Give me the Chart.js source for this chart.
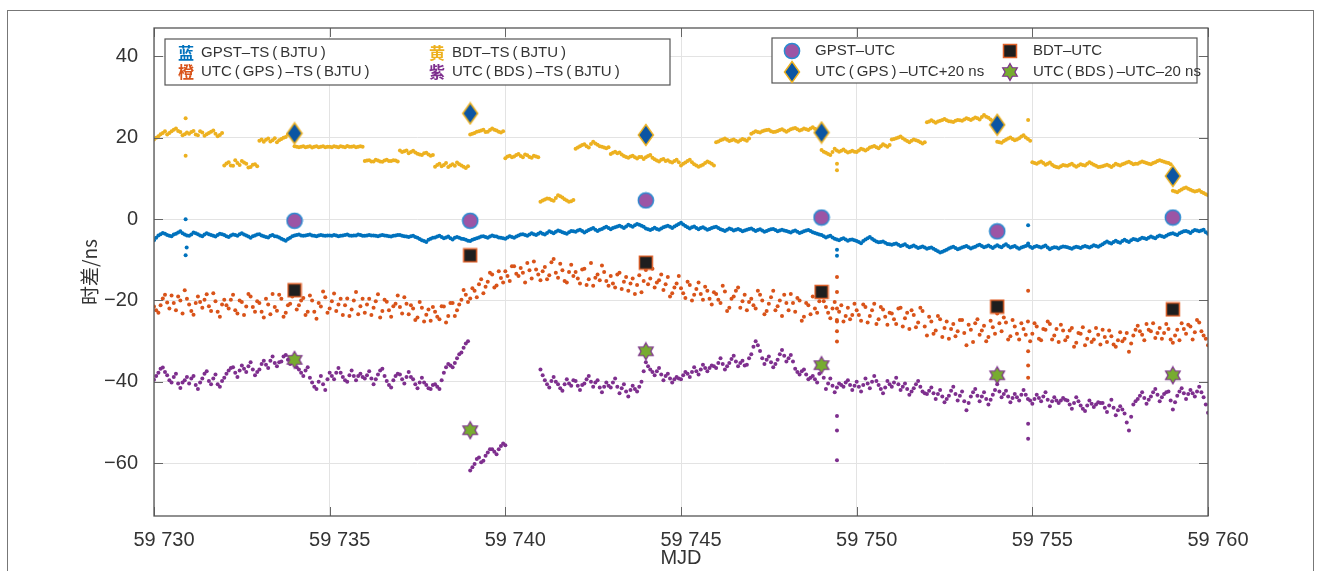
<!DOCTYPE html>
<html>
<head>
<meta charset="utf-8">
<script src="https://cdn.jsdelivr.net/npm/chart.js@4/dist/chart.umd.min.js"></script>
<style>
  html, body { margin: 0; padding: 0; background: #fff; }
  #frame { position: absolute; left: 7px; top: 10px; width: 1305px; height: 600px;
           border: 1.5px solid #777; border-bottom: none; }
  #c { position: absolute; left: 0; top: 0; }
</style>
</head>
<body>
<div id="frame"></div>
<canvas id="c" width="1321" height="571"></canvas>
<script>
// sampling grid: one value every 3 h from MJD 59730, plus a second read half-way between
const mjdStart = 59730
const mjdStep = 0.125

// GPST-TS(BJTU), blue
const gpstTs = [
  -5.2, -4.0, -3.4, -3.9, -4.2, -3.6, -3.0, -3.8,
  -4.1, -3.3, -3.7, -4.2, -3.5, -3.9, -4.3, -3.6,
  -3.9, -4.4, -3.8, -4.1, -3.5, -4.0, -4.6, -4.0,
  -3.7, -4.2, -4.5, -3.9, -4.3, -4.8, -5.3, -4.6,
  -4.0, -3.8, -4.1, -3.9, -4.0, -4.2, -3.9, -4.1,
  -4.0, -3.9, -4.2, -4.0, -3.8, -4.1, -4.0, -3.9,
  -4.1, -3.9, -4.0, -4.2, -3.9, -4.1, -4.3, -4.0,
  -3.9, -4.2, -4.4, -4.1, -4.6, -5.2, -5.6, -4.8,
  -4.5, -4.1, -4.7, -4.3, -5.0, -4.4, -4.8, -5.1,
  -5.4, -4.9, -4.5, -4.2, -4.6, -4.0, -4.3, -4.6,
  -4.8, -4.2, -4.6, -4.0, -3.7, -4.1, -3.5, -3.9,
  -3.3, -3.8, -3.0, -3.5, -2.8, -3.2, -3.6, -2.9,
  -3.1, -2.6, -3.3, -2.7, -2.2, -2.9, -2.4, -1.9,
  -2.5, -2.0, -1.6, -2.2, -1.4, -1.9, -1.2, -1.6,
  -2.3, -2.7, -2.1, -2.6, -2.0, -1.6, -2.2, -1.5,
  -0.9, -1.7, -2.3, -1.8, -2.5, -2.0, -2.6, -2.2,
  -1.9, -2.5, -2.9, -2.3, -2.8, -2.4, -3.0, -2.6,
  -2.3, -2.9, -2.5, -3.1, -2.7, -2.4, -3.0, -2.6,
  -2.9, -3.3, -2.8, -3.4, -3.0, -2.7, -3.2, -3.6,
  -3.9, -4.5, -4.1, -4.8, -5.2, -4.7, -5.3, -5.0,
  -5.4, -5.9, -5.0, -4.4, -5.2, -5.7, -5.5, -6.1,
  -6.3, -6.0, -6.6, -6.2, -6.9, -6.5, -7.1, -6.7,
  -7.3, -7.0, -7.6, -8.2, -7.8, -7.2, -6.8, -7.4,
  -7.0, -6.6, -7.2, -6.8, -6.3, -6.9, -6.5, -7.1,
  -6.4, -6.9, -6.2, -7.0, -6.6, -7.3, -6.8, -6.4,
  -7.1, -6.6, -7.0, -6.5, -7.4, -6.9, -7.2, -6.7,
  -6.9, -7.3, -6.8, -7.1, -6.6, -7.0, -6.4, -6.8,
  -6.2, -5.5, -6.0, -5.3, -5.8, -5.1, -5.6, -4.9,
  -5.2, -4.6, -4.9, -4.3, -4.7, -4.0, -4.4, -3.8,
  -3.5, -3.9, -3.2, -2.9, -3.4, -2.7, -3.0, -2.6,
  -3.6
]
const gpstTsMid = [
  -4.6, -3.7, -3.6, -4.1, -3.8, -3.3, -3.5, -4.0,
  -3.8, -3.5, -4.0, -3.8, -3.7, -4.1, -3.9, -3.7,
  -4.2, -4.0, -3.9, -3.7, -3.8, -4.3, -4.2, -3.8,
  -4.0, -4.4, -4.1, -4.2, -4.5, -5.1, -4.9, -4.2,
  -3.9, -4.0, -4.0, -3.8, -4.1, -4.0, -4.0, -4.0,
  -4.1, -4.0, -4.1, -3.9, -4.0, -4.0, -3.8, -4.1,
  -4.0, -4.0, -4.1, -4.0, -4.0, -4.2, -4.1, -3.9,
  -4.1, -4.3, -4.2, -4.4, -4.9, -5.4, -5.1, -4.6,
  -4.3, -4.4, -4.5, -4.7, -4.6, -4.6, -4.9, -5.3,
  -5.1, -4.7, -4.3, -4.4, -4.3, -4.2, -4.5, -4.7,
  -4.5, -4.4, -4.3, -3.8, -3.9, -3.8, -3.7, -3.6,
  -3.6, -3.4, -3.2, -3.1, -3.0, -3.4, -3.2, -3.0,
  -2.8, -2.9, -3.0, -2.4, -2.6, -2.6, -2.1, -2.2,
  -2.2, -1.8, -1.9, -1.8, -1.6, -1.5, -1.4, -1.9,
  -2.5, -2.4, -2.4, -2.3, -1.8, -1.9, -1.8, -1.2,
  -1.3, -2.0, -2.0, -2.2, -2.2, -2.3, -2.4, -2.0,
  -2.2, -2.7, -2.6, -2.5, -2.6, -2.7, -2.8, -2.4,
  -2.6, -2.7, -2.8, -2.9, -2.5, -2.7, -2.8, -2.8,
  -3.1, -3.0, -3.1, -3.2, -2.8, -2.9, -3.4, -3.8,
  -4.2, -4.3, -4.5, -5.0, -4.9, -5.0, -5.1, -5.2,
  -5.6, -5.4, -4.7, -4.8, -5.5, -5.6, -5.8, -6.2,
  -6.1, -6.3, -6.4, -6.6, -6.7, -6.8, -6.9, -7.0,
  -7.1, -7.3, -7.9, -8.0, -7.5, -7.0, -7.1, -7.2,
  -6.8, -6.9, -7.0, -6.5, -6.6, -6.7, -6.8, -6.7,
  -6.7, -6.5, -6.6, -6.8, -7.0, -7.0, -6.6, -6.8,
  -6.8, -6.8, -6.7, -7.0, -7.1, -7.0, -6.9, -6.8,
  -7.1, -7.0, -6.9, -6.8, -6.8, -6.7, -6.6, -6.5,
  -5.8, -5.8, -5.6, -5.6, -5.4, -5.4, -5.2, -5.0,
  -4.9, -4.7, -4.6, -4.5, -4.3, -4.2, -4.1, -3.6,
  -3.7, -3.5, -3.0, -3.1, -3.0, -2.8, -2.8, -3.2
]
const gpstTsExtra = [[59730.9, 0.0], [59730.9, -8.9], [59730.93, -7.0], [59749.44, -7.5], [59749.44, -9.0], [59754.88, -1.5], [59754.88, -6.0]]

// UTC(GPS)-TS(BJTU), orange
const utcGpsTs = [
  -21.5, -23.0, -19.5, -20.5, -18.8, -22.4, -20.0, -17.5,
  -21.0, -23.5, -19.0, -21.8, -18.5, -22.6, -20.2, -24.0,
  -19.8, -22.0, -18.6, -23.2, -20.4, -21.5, -19.0, -22.8,
  -20.6, -24.2, -21.0, -18.4, -22.5, -19.6, -23.0, -20.8,
  -18.6, -21.2, -19.4, -22.8, -20.0, -24.5, -21.5, -19.2,
  -22.0, -18.3, -21.0, -23.6, -19.5, -22.2, -17.9, -21.4,
  -23.0, -19.6, -21.8, -18.5, -22.6, -20.3, -24.0, -20.8,
  -21.6, -19.2, -23.4, -22.0, -24.2, -21.8, -23.5, -25.0,
  -22.8, -24.6, -21.5, -23.8, -20.6, -22.4, -19.8, -18.6,
  -19.5, -17.6, -16.0, -18.2, -15.4, -13.6, -16.3, -14.5,
  -12.8, -15.2, -11.6, -14.0, -13.2, -10.8, -14.6, -12.4,
  -15.0, -11.8, -13.8, -9.8, -14.4, -12.6, -15.6, -11.2,
  -13.0, -15.8, -12.2, -14.8, -16.4, -13.6, -11.4, -15.2,
  -14.0, -16.8, -13.2, -15.4, -17.6, -14.6, -16.2, -18.0,
  -12.5, -14.6, -16.8, -15.0, -17.4, -14.2, -18.2, -15.8,
  -17.0, -19.4, -16.2, -18.6, -15.6, -19.8, -17.6, -21.0,
  -18.4, -20.6, -17.8, -21.8, -19.0, -16.8, -20.2, -22.4,
  -19.6, -22.0, -18.6, -23.4, -20.8, -17.6, -21.4, -23.8,
  -20.6, -18.4, -22.8, -20.0, -24.0, -21.2, -19.0, -23.0,
  -18.6, -21.6, -24.4, -20.4, -22.8, -25.2, -21.8, -23.6,
  -22.4, -25.0, -21.6, -23.8, -20.8, -24.6, -22.2, -26.0,
  -23.2, -25.8, -21.8, -24.4, -27.0, -23.6, -25.4, -22.6,
  -28.6, -25.2, -27.4, -24.6, -26.8, -29.4, -25.8, -27.6,
  -24.8, -31.0, -27.2, -25.6, -28.4, -26.2, -29.0, -26.6,
  -23.2, -27.6, -25.4, -28.8, -26.4, -29.6, -27.0, -25.2,
  -28.2, -26.4, -29.8, -27.2, -25.8, -28.6, -30.2, -27.4,
  -29.0, -26.8, -30.4, -28.2, -31.0, -27.6, -29.6, -28.4,
  -27.2, -30.2, -28.8, -31.4, -27.8, -29.4, -32.6, -28.6,
  -26.2, -28.4, -25.8, -27.6, -29.2, -26.8, -28.0, -27.0,
  -30.4, -27.2, -25.6, -28.2, -26.4, -27.8, -25.4, -28.6,
  -31.0
]
const utcGpsTsMid = [
  -22.4, -21.2, -18.6, -22.0, -20.6, -19.0, -23.2, -19.6,
  -22.6, -20.6, -20.4, -19.8, -21.4, -18.2, -22.8, -21.0,
  -21.2, -19.8, -22.4, -20.0, -23.6, -18.4, -21.6, -20.2,
  -22.8, -19.6, -23.4, -21.6, -18.6, -24.0, -21.2, -19.0,
  -22.2, -20.0, -23.6, -18.8, -22.8, -20.6, -17.8, -23.0,
  -20.2, -22.6, -19.6, -21.2, -23.8, -20.0, -23.4, -19.6,
  -21.0, -23.6, -20.2, -24.2, -19.8, -22.4, -21.4, -18.8,
  -23.2, -20.8, -21.2, -24.8, -20.4, -25.2, -22.2, -21.6,
  -24.0, -21.4, -25.4, -20.6, -23.8, -21.0, -17.4, -20.4,
  -17.0, -19.2, -14.8, -16.6, -13.2, -16.8, -12.8, -15.6,
  -14.0, -11.6, -13.4, -12.0, -15.6, -12.6, -10.4, -13.6,
  -12.8, -14.8, -10.6, -13.2, -11.0, -15.2, -13.0, -14.0,
  -14.6, -12.4, -16.2, -10.8, -14.4, -15.0, -13.0, -16.4,
  -15.8, -13.6, -17.2, -14.2, -15.8, -18.4, -13.8, -15.2,
  -16.0, -12.2, -15.6, -13.6, -16.0, -19.0, -16.8, -14.0,
  -18.2, -15.4, -20.0, -17.2, -18.4, -16.6, -19.6, -18.0,
  -19.8, -16.4, -22.6, -19.6, -17.6, -21.8, -18.6, -20.4,
  -21.2, -17.6, -20.0, -22.6, -19.2, -22.4, -20.0, -18.6,
  -22.4, -20.6, -19.4, -25.0, -20.6, -23.4, -22.0, -20.2,
  -20.2, -23.0, -22.0, -24.8, -21.2, -23.8, -24.6, -20.8,
  -23.6, -21.0, -25.4, -22.4, -25.8, -21.6, -24.0, -23.0,
  -24.6, -22.0, -26.4, -23.0, -22.4, -26.6, -21.8, -26.4,
  -24.0, -28.2, -23.8, -29.0, -25.2, -27.0, -28.8, -24.8,
  -28.0, -26.0, -30.2, -24.6, -27.4, -30.0, -25.0, -28.2,
  -25.6, -24.2, -29.6, -24.8, -28.2, -25.6, -28.4, -30.0,
  -25.6, -29.4, -27.0, -25.2, -29.6, -27.0, -26.0, -29.8,
  -27.4, -31.4, -28.0, -26.6, -29.4, -30.2, -26.8, -30.8,
  -29.0, -27.4, -30.8, -29.8, -30.0, -28.0, -30.6, -27.2,
  -27.6, -29.8, -27.2, -25.6, -28.0, -29.4, -25.8, -29.6,
  -28.6, -29.8, -27.0, -26.0, -29.6, -24.8, -27.6, -29.4
]
const utcGpsTsExtra = [[59749.44, -14.2], [59749.44, -17.9], [59749.44, -22.0], [59749.44, -25.2], [59749.44, -27.6], [59749.44, -30.1],
  [59754.88, -17.6], [59754.88, -32.5], [59754.88, -36.0], [59754.88, -39.0]]

// BDT-TS(BJTU), yellow
const bdtTs = [
  19.6, 20.4, 21.2, 20.8, 21.6, 22.3, 21.4, 20.9,
  21.0, 21.7, 20.6, 21.3, 20.9, 21.5, 21.0, 20.7,
  13.2, 14.0, 13.1, 13.8, 14.3, 13.6, 12.8, 13.5,
  19.3, 19.0, 19.8, 19.4, 18.9, 19.7, 20.2, 20.6,
  17.9, 17.7, 17.9, 17.8, 17.6, 17.9, 17.8, 17.7,
  17.8, 17.9, 17.7, 17.8, 18.0, 17.8, 17.7, 17.9,
  14.3, 14.5, 14.2, 14.4, 14.1, 14.6, 14.3, 14.4,
  16.9, 16.7, 16.2, 16.8, 16.1, 15.8, 16.3, 15.6,
  12.9, 13.6, 13.3, 12.8, 13.5, 13.9, 13.2, 12.6,
  20.8, 21.2, 21.6, 22.0, 21.5, 22.3, 21.8, 21.3,
  15.0, 15.6, 15.4, 16.0, 15.2, 15.7, 15.1, 15.4,
  4.3, 4.8, 5.0, 4.5, 5.9, 5.3, 4.6, 4.4,
  17.3, 17.9, 18.4, 17.6, 19.0, 18.3, 17.8, 17.4,
  16.0, 16.6, 16.4, 15.5, 15.1, 15.6, 14.9, 15.3,
  15.2, 15.8, 14.7, 14.2, 14.8, 14.5, 13.9, 14.6,
  13.2, 13.9, 14.6, 13.5, 12.9, 13.4, 14.2, 13.6,
  18.9, 19.4, 19.8, 19.2, 19.6, 19.0, 19.7, 19.3,
  21.0, 21.6, 21.3, 21.8, 22.0, 21.4, 21.7, 22.1,
  21.5, 22.1, 22.4, 21.8, 22.3, 21.9, 22.6, 22.0,
  17.0, 16.3, 15.8, 17.3, 16.6, 17.1, 16.4, 16.8,
  16.5, 17.3, 16.9, 17.6, 18.0, 17.4, 18.4, 17.8,
  19.6, 19.9, 20.3, 19.5, 18.9, 19.6, 19.2, 18.6,
  23.8, 24.3, 23.7, 24.2, 24.6, 24.1, 23.9, 24.4,
  24.2, 24.8, 24.4, 25.0, 24.5, 25.6, 24.9, 24.1,
  19.0, 18.8, 19.5, 20.1, 19.4, 19.9, 20.6, 19.7,
  14.0, 13.6, 14.2, 13.4, 13.9, 13.0, 12.7, 13.3,
  13.1, 13.6, 12.9, 13.5, 13.2, 14.0, 13.4, 12.8,
  13.0, 13.4, 12.8, 13.6, 13.2, 13.7, 14.1, 13.5,
  13.6, 14.2, 13.8, 13.5, 14.0, 14.5, 14.1, 13.8,
  7.0, 6.6, 7.3, 7.8, 7.2, 6.8, 7.1, 6.4,
  5.9
]
const bdtTsMid = [
  20.0, 20.9, 21.6, 21.2, 22.0, 21.7, 20.6, 21.3,
  21.4, 20.8, 21.6, 20.5, 21.2, 21.8, 20.4, 21.2,
  13.7, 13.2, 14.5, 13.3, 13.9, 12.7, 13.4, 13.0,
  19.6, 19.5, 19.1, 19.9, 19.4, 20.0, 20.8, 21.0,
  17.8, 17.8, 17.7, 17.9, 17.8, 17.7, 17.9, 17.8,
  17.7, 17.8, 17.9, 17.7, 17.8, 17.9, 17.8, 17.8,
  14.4, 14.2, 14.6, 14.2, 14.4, 14.3, 14.5, 14.2,
  16.5, 16.9, 16.5, 16.4, 15.9, 16.2, 15.9, 15.8,
  13.3, 13.0, 13.8, 13.2, 13.1, 13.5, 12.9, 13.0,
  21.0, 21.5, 21.8, 21.4, 21.9, 22.0, 21.5, 21.6,
  15.4, 15.2, 15.8, 15.5, 15.9, 15.3, 15.6, 15.2,
  4.6, 5.1, 4.7, 5.2, 5.6, 4.9, 4.3, 4.7,
  17.6, 18.2, 17.9, 18.5, 18.6, 17.9, 17.6, 17.7,
  16.3, 16.2, 15.9, 15.3, 15.4, 15.2, 15.3, 14.8,
  15.5, 15.1, 14.4, 14.6, 14.3, 14.1, 14.3, 14.0,
  13.6, 14.3, 14.0, 13.2, 13.1, 13.8, 13.9, 13.2,
  19.1, 19.6, 19.5, 19.4, 19.3, 19.4, 19.5, 19.8,
  21.3, 21.4, 21.6, 21.9, 21.6, 21.5, 21.9, 21.8,
  21.8, 22.3, 22.1, 22.0, 22.1, 22.3, 22.2, 21.7,
  16.6, 16.0, 16.5, 16.9, 16.8, 16.7, 16.6, 16.6,
  16.9, 17.1, 17.2, 17.8, 17.7, 17.9, 18.1, 18.2,
  19.7, 20.1, 19.9, 19.2, 19.3, 19.4, 18.9, 18.9,
  24.0, 24.0, 24.0, 24.4, 24.3, 24.0, 24.2, 24.3,
  24.5, 24.6, 24.7, 24.8, 25.1, 25.2, 24.5, 23.8,
  18.9, 19.2, 19.8, 19.7, 19.6, 20.3, 20.1, 19.3,
  13.8, 13.9, 13.8, 13.6, 13.4, 12.8, 13.0, 13.2,
  13.4, 13.2, 13.2, 13.3, 13.6, 13.7, 13.1, 12.9,
  13.2, 13.1, 13.2, 13.4, 13.5, 13.9, 13.8, 13.6,
  13.9, 14.0, 13.6, 13.8, 14.3, 14.3, 13.9, 13.5,
  6.8, 7.0, 7.6, 7.5, 7.0, 6.9, 6.7, 6.1
]
const bdtTsExtra = [[59730.9, 24.8], [59730.9, 15.6], [59749.44, 12.0], [59749.44, 13.6], [59754.88, 24.4]]

// UTC(BDS)-TS(BJTU), purple
const utcBdsTs = [
  -39.5, -37.8, -36.5, -38.4, -40.2, -38.0, -41.5, -39.6,
  -40.4, -38.6, -41.8, -39.2, -37.4, -40.6, -38.2, -41.2,
  -39.0, -37.2, -36.4, -38.8, -36.0, -37.6, -35.2, -38.4,
  -37.0, -34.8, -36.6, -33.8, -36.2, -35.0, -33.4, -35.6,
  -35.2, -37.0, -38.6, -36.4, -40.2, -41.8, -38.6, -42.0,
  -37.8, -39.4, -36.6, -38.8, -40.0, -37.2, -39.6, -38.0,
  -39.2, -37.4, -40.6, -38.2, -36.8, -39.8, -41.4, -38.6,
  -38.2, -40.4, -37.6, -39.4, -41.6, -39.0, -40.8, -41.8,
  -40.6, -41.8, -37.8, -35.6, -36.4, -34.2, -32.8, -30.6,
  -61.8, -60.2, -58.6, -59.4, -57.4, -56.6, -57.8, -55.8,
  -55.6, null, null, null, null, null, null, null,
  -37.0, -39.6, -41.4, -38.8, -40.6, -42.2, -39.4, -41.0,
  -39.8, -42.0, -40.4, -38.6, -41.2, -39.6, -42.6, -40.2,
  -41.4, -39.2, -42.8, -40.6, -43.6, -41.0, -42.4, -40.0,
  -35.2, -37.0, -38.4, -36.6, -39.6, -38.0, -40.2, -38.8,
  -39.4, -37.6, -38.8, -36.4, -38.2, -35.8, -37.4, -36.0,
  -36.6, -34.2, -37.0, -35.4, -33.6, -36.2, -34.8, -35.8,
  -33.2, -30.0, -32.4, -35.6, -33.8, -36.4, -34.6, -32.2,
  -35.0, -33.4, -36.8, -38.2, -37.0, -39.4, -38.6, -40.2,
  -36.4, -41.8, -39.2, -42.6, -40.4, -41.2, -39.6, -42.0,
  -40.0, -42.4, -39.2, -41.6, -38.6, -40.8, -42.8, -39.8,
  -41.2, -39.0, -42.0, -40.4, -43.2, -41.6, -39.8, -42.4,
  -43.0, -41.4, -44.2, -42.0, -45.0, -43.4, -41.2, -44.6,
  -42.4, -47.0, -43.6, -41.8, -44.8, -42.6, -45.6, -43.2,
  -40.6, -43.8, -42.2, -45.0, -43.0, -44.6, -42.0, -44.2,
  -45.4, -43.2, -44.8, -42.6, -46.0, -43.8, -45.2, -44.0,
  -44.6, -46.6, -43.8, -45.8, -47.2, -44.6, -46.2, -45.0,
  -45.2, -47.4, -44.4, -48.2, -46.0, -47.8, -52.0, -45.6,
  -44.2, -42.6, -45.4, -43.6, -41.8, -44.8, -43.0, -42.4,
  -46.8, -43.4, -41.6, -44.2, -42.0, -43.6, -41.2, -43.8,
  -47.6
]
const utcBdsTsMid = [
  -38.6, -36.8, -37.6, -39.6, -38.8, -40.4, -40.2, -38.8,
  -39.2, -40.8, -40.2, -38.0, -39.8, -39.2, -40.6, -39.8,
  -38.0, -36.6, -37.8, -37.2, -36.8, -36.2, -37.0, -37.6,
  -35.6, -35.8, -34.8, -35.4, -35.2, -33.8, -34.6, -35.0,
  -36.4, -37.8, -37.2, -39.0, -41.2, -40.0, -40.6, -39.4,
  -38.6, -37.8, -37.8, -39.6, -38.4, -38.6, -38.6, -38.8,
  -38.4, -39.2, -39.4, -37.2, -38.6, -40.8, -39.6, -38.0,
  -39.4, -38.8, -38.8, -40.6, -40.2, -40.2, -41.6, -40.8,
  -41.2, -39.6, -36.4, -36.0, -35.4, -33.2, -31.6, -30.0,
  -61.0, -59.0, -59.8, -58.2, -56.6, -57.2, -56.6, -55.2,
  null, null, null, null, null, null, null, null,
  -38.4, -40.6, -39.8, -40.0, -41.6, -40.6, -40.4, -39.6,
  -41.0, -40.8, -39.4, -40.0, -40.2, -41.4, -41.2, -41.0,
  -40.2, -41.2, -41.6, -42.4, -42.0, -41.8, -41.2, -37.4,
  -36.2, -37.6, -37.4, -38.2, -38.6, -39.2, -39.4, -39.2,
  -38.4, -38.0, -37.6, -37.4, -37.0, -36.6, -36.6, -36.2,
  -35.4, -35.6, -36.2, -34.4, -35.0, -35.4, -36.0, -34.2,
  -31.4, -31.0, -34.2, -34.6, -35.2, -35.6, -33.2, -33.6,
  -34.2, -35.0, -37.6, -37.4, -38.2, -39.0, -39.4, -38.0,
  -39.0, -40.4, -41.0, -41.4, -40.8, -40.2, -40.8, -41.0,
  -41.2, -40.8, -40.4, -40.0, -39.8, -41.8, -41.4, -40.6,
  -40.2, -40.6, -41.2, -41.8, -42.4, -40.6, -41.2, -42.8,
  -42.2, -42.8, -43.0, -43.6, -44.2, -42.2, -43.0, -43.4,
  -44.8, -45.2, -42.6, -43.4, -43.6, -44.2, -44.4, -42.0,
  -42.4, -43.0, -43.6, -44.0, -43.8, -43.2, -43.2, -44.6,
  -44.2, -44.0, -43.6, -44.4, -44.8, -44.6, -44.6, -44.4,
  -45.6, -45.2, -44.8, -46.6, -45.8, -45.4, -45.6, -45.2,
  -46.4, -45.8, -46.4, -47.0, -46.8, -50.0, -48.6, -44.8,
  -43.4, -44.0, -44.4, -42.6, -43.2, -43.8, -42.6, -44.6,
  -45.0, -42.4, -42.8, -43.0, -42.8, -42.4, -42.6, -45.6
]
const utcBdsTsExtra = [[59749.44, -48.4], [59749.44, -52.0], [59749.44, -59.3], [59754.88, -50.3], [59754.88, -54.0]]

// comparison epochs
const epochMjd = [59734, 59739, 59744, 59749, 59754, 59759]
const gpstUtc = [-0.4, -0.4, 4.6, 0.4, -3.0, 0.4]
const bdtUtc = [-17.5, -8.9, -10.7, -17.9, -21.5, -22.2]
const utcGpsUtcPlus20 = [21.1, 26.0, 20.7, 21.3, 23.2, 10.6]
const utcBdsUtcMinus20 = [-34.6, -51.9, -32.5, -35.9, -38.4, -38.4]

const xTicks = [59730, 59735, 59740, 59745, 59750, 59755, 59760]
const yTicks = [-60, -40, -20, 0, 20, 40]

const blue = '#0072BD', orange = '#D95319', yellow = '#EDB120', purple = '#7E2F8E'

function toPoints(vals, mids, extra) {
  let pts = []
  vals.forEach((v, i) => { if (v !== null) pts.push({x: mjdStart + i * mjdStep, y: v}) })
  mids.forEach((v, i) => { if (v !== null) pts.push({x: mjdStart + (i + 0.5) * mjdStep, y: v}) })
  extra.forEach(e => pts.push({x: e[0], y: e[1]}))
  return pts
}
function epochPoints(vals) {
  return epochMjd.map((m, i) => ({x: m, y: vals[i]}))
}

// marker glyphs
function makeMarker(w, h, draw) {
  let c = document.createElement('canvas')
  c.width = w; c.height = h
  draw(c.getContext('2d'))
  return c
}
const circleMk = makeMarker(18, 18, g => {
  g.beginPath(); g.arc(9, 9, 7.6, 0, Math.PI * 2)
  g.fillStyle = '#9C55A5'; g.fill(); g.lineWidth = 1.5; g.strokeStyle = '#2B8AD0'; g.stroke()
})
const squareMk = makeMarker(16, 16, g => {
  g.fillStyle = '#1E1E1E'; g.fillRect(1.5, 1.5, 13, 13)
  g.lineWidth = 1.5; g.strokeStyle = '#E0622A'; g.strokeRect(1.5, 1.5, 13, 13)
})
const diamondMk = makeMarker(18, 24, g => {
  g.beginPath(); g.moveTo(9, 1.5); g.lineTo(16.5, 12); g.lineTo(9, 22.5); g.lineTo(1.5, 12); g.closePath()
  g.fillStyle = '#0B55A3'; g.fill(); g.lineWidth = 1.5; g.strokeStyle = '#EDB120'; g.stroke()
})
const starMk = makeMarker(20, 20, g => {
  g.beginPath()
  for (let k = 0; k < 12; k++) {
    let r = k % 2 === 0 ? 8.5 : 4.9
    let a = -Math.PI / 2 + k * Math.PI / 6
    let px = 10 + r * Math.cos(a), py = 10 + r * Math.sin(a)
    if (k === 0) g.moveTo(px, py); else g.lineTo(px, py)
  }
  g.closePath()
  g.fillStyle = '#77AC30'; g.fill(); g.lineWidth = 1.2; g.strokeStyle = '#7E2F8E'; g.stroke()
})

const latin = '"Liberation Sans", Arial, sans-serif'
const cjk = '"Noto Sans CJK SC", sans-serif'
const ts = '\u2009'  // thin space, as in the original legends

// box, inner ticks and the two legends
const decorPlugin = {
  id: 'decor',
  afterDatasetsDraw(chart) {
    const {ctx, chartArea: a, scales: {x, y}} = chart
    ctx.save()
    ctx.strokeStyle = '#666'; ctx.lineWidth = 1
    ctx.beginPath()
    yTicks.forEach(v => {
      let py = Math.round(y.getPixelForValue(v)) + 0.5
      ctx.moveTo(a.left, py); ctx.lineTo(a.left + 9, py)
      ctx.moveTo(a.right, py); ctx.lineTo(a.right - 9, py)
    })
    xTicks.forEach(v => {
      let px = Math.round(x.getPixelForValue(v)) + 0.5
      ctx.moveTo(px, a.bottom); ctx.lineTo(px, a.bottom - 9)
      ctx.moveTo(px, a.top); ctx.lineTo(px, a.top + 9)
    })
    ctx.stroke()
    ctx.lineWidth = 1.3; ctx.strokeStyle = '#555'
    ctx.strokeRect(a.left, a.top, a.right - a.left, a.bottom - a.top)
    ctx.restore()
  },
  afterDraw(chart) {
    const {ctx, chartArea: a} = chart
    ctx.save()
    // legend 1
    let lx = a.left + 11, ly = a.top + 11
    ctx.fillStyle = '#fff'; ctx.fillRect(lx, ly, 505, 46)
    ctx.strokeStyle = '#555'; ctx.lineWidth = 1.2; ctx.strokeRect(lx, ly, 505, 46)
    const leg1 = [
      ['蓝', blue, `GPST–TS${ts}(${ts}BJTU${ts})`, 0, 0],
      ['橙', orange, `UTC${ts}(${ts}GPS${ts})${ts}–TS${ts}(${ts}BJTU${ts})`, 0, 1],
      ['黄', yellow, `BDT–TS${ts}(${ts}BJTU${ts})`, 1, 0],
      ['紫', purple, `UTC${ts}(${ts}BDS${ts})${ts}–TS${ts}(${ts}BJTU${ts})`, 1, 1]
    ]
    ctx.textBaseline = 'middle'
    leg1.forEach(([ch, col, txt, c, r]) => {
      let cx = lx + 13 + c * 251, cy = ly + 14 + r * 19
      ctx.font = 'bold 16px ' + cjk; ctx.fillStyle = col; ctx.textAlign = 'left'
      ctx.fillText(ch, cx, cy)
      ctx.font = '15px ' + latin; ctx.fillStyle = '#333'
      ctx.fillText(txt, cx + 23, cy)
    })
    // legend 2
    let mx = a.left + 618, my = a.top + 10
    ctx.fillStyle = '#fff'; ctx.fillRect(mx, my, 425, 45)
    ctx.strokeStyle = '#555'; ctx.lineWidth = 1.2; ctx.strokeRect(mx, my, 425, 45)
    const leg2 = [
      [circleMk, 'GPST–UTC', 0, 0],
      [diamondMk, `UTC${ts}(${ts}GPS${ts})${ts}–UTC+20 ns`, 0, 1],
      [squareMk, 'BDT–UTC', 1, 0],
      [starMk, `UTC${ts}(${ts}BDS${ts})${ts}–UTC–20 ns`, 1, 1]
    ]
    ctx.font = '15px ' + latin; ctx.fillStyle = '#333'
    leg2.forEach(([mk, txt, c, r]) => {
      let cx = mx + 20 + c * 218, cy = my + 13 + r * 21
      ctx.drawImage(mk, cx - mk.width / 2, cy - mk.height / 2)
      ctx.fillText(txt, cx + 23, cy)
    })
    ctx.restore()
  }
}

function dots(label, vals, mids, extra, col) {
  return {label, data: toPoints(vals, mids, extra), backgroundColor: col, pointRadius: 2,
    pointBorderWidth: 0, pointHoverRadius: 0, order: 2}
}
function marks(label, vals, mk) {
  return {label, data: epochPoints(vals), pointStyle: mk, pointRadius: 9, pointHoverRadius: 9, order: 1}
}

new Chart(document.getElementById('c'), {
  type: 'scatter',
  data: {
    datasets: [
      marks('GPST–UTC', gpstUtc, circleMk),
      marks('BDT–UTC', bdtUtc, squareMk),
      marks('UTC(GPS)–UTC+20 ns', utcGpsUtcPlus20, diamondMk),
      marks('UTC(BDS)–UTC–20 ns', utcBdsUtcMinus20, starMk),
      dots('GPST–TS(BJTU)', gpstTs, gpstTsMid, gpstTsExtra, blue),
      dots('UTC(GPS)–TS(BJTU)', utcGpsTs, utcGpsTsMid, utcGpsTsExtra, orange),
      dots('BDT–TS(BJTU)', bdtTs, bdtTsMid, bdtTsExtra, yellow),
      dots('UTC(BDS)–TS(BJTU)', utcBdsTs, utcBdsTsMid, utcBdsTsExtra, purple)
    ]
  },
  options: {
    responsive: false,
    devicePixelRatio: 1,
    animation: false,
    events: [],
    layout: {padding: {left: 0, right: 113, top: 24, bottom: 0}},
    plugins: {legend: {display: false}, tooltip: {enabled: false}},
    scales: {
      x: {
        type: 'linear', min: 59730, max: 59760,
        afterBuildTicks: s => { s.ticks = xTicks.map(v => ({value: v})) },
        afterFit: s => { s.height = 55 },
        grid: {color: '#e3e3e3', drawTicks: false},
        border: {display: false},
        ticks: {
          padding: 12, labelOffset: 10, maxRotation: 0, color: '#333',
          font: {family: latin, size: 20},
          callback: v => String(v).replace(/(\d+)(\d{3})$/, '$1 $2')
        },
        title: {display: true, text: 'MJD', color: '#333', font: {family: latin, size: 20}, padding: {top: 0, bottom: 1}}
      },
      y: {
        min: -73, max: 47,
        afterBuildTicks: s => { s.ticks = yTicks.map(v => ({value: v})) },
        afterFit: s => { s.width = 154 },
        grid: {color: '#e3e3e3', drawTicks: false},
        border: {display: false},
        ticks: {padding: 16, color: '#333', font: {family: latin, size: 20},
          callback: v => String(v).replace('-', '−')},
        title: {display: true, text: '时差/ns', color: '#333', font: {family: cjk, size: 19}, padding: {top: 78, bottom: 0}}
      }
    }
  },
  plugins: [decorPlugin]
})
</script>
</body>
</html>
